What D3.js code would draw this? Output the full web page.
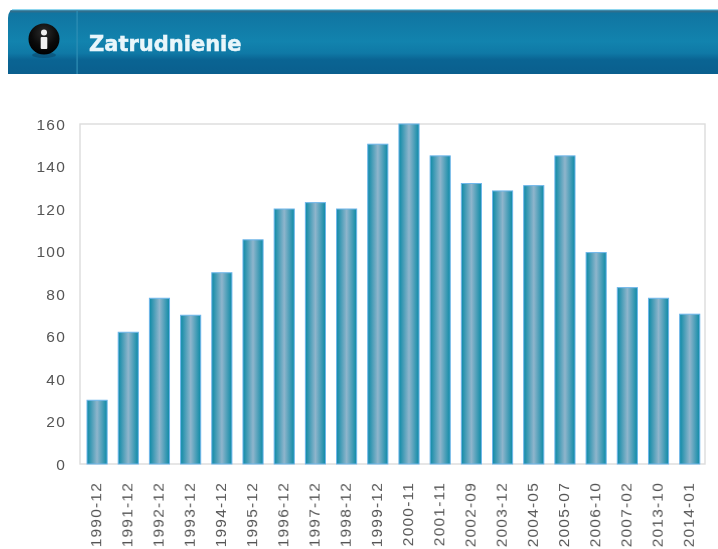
<!DOCTYPE html>
<html><head><meta charset="utf-8">
<script src="https://cdn.jsdelivr.net/npm/d3@7/dist/d3.min.js"></script>
<style>html,body{margin:0;padding:0;background:#fff}svg{display:block}</style>
</head><body><svg id="c" width="718" height="549"></svg>
<script>
const titleText = "Zatrudnienie";
const categories = ["1990-12","1991-12","1992-12","1993-12","1994-12","1995-12","1996-12","1997-12","1998-12","1999-12","2000-11","2001-11","2002-09","2003-12","2004-05","2005-07","2006-10","2007-02","2013-10","2014-01"];
const values = [30,62,78,70,90,105.5,120,123,120,150.5,160,145,132,128.5,131,145,99.5,83,78,70.5];
const yTicks = [0,20,40,60,80,100,120,140,160];

const svg = d3.select("#c");
const defs = svg.append("defs");
const hg = defs.append("linearGradient").attr("id","hdr").attr("x1",0).attr("y1",0).attr("x2",0).attr("y2",1);
[[0,"#10739f"],[0.5,"#1283ae"],[0.68,"#0f79a6"],[0.78,"#0a6493"],[1,"#0a5f8e"]].forEach(s=>hg.append("stop").attr("offset",s[0]).attr("stop-color",s[1]));
const bg = defs.append("linearGradient").attr("id","bar").attr("x1",0).attr("y1",0).attr("x2",1).attr("y2",0);
[[0,"#0d8aa6"],[0.5,"#8fb5cc"],[1,"#0d8aa6"]].forEach(s=>bg.append("stop").attr("offset",s[0]).attr("stop-color",s[1]));
const ig = defs.append("radialGradient").attr("id","ic").attr("cx",0.5).attr("cy",0.3).attr("r",0.7);
[[0,"#2c2c2c"],[0.6,"#0a0a0a"],[1,"#000"]].forEach(s=>ig.append("stop").attr("offset",s[0]).attr("stop-color",s[1]));
const blur = defs.append("filter").attr("id","soft").attr("x","-10%").attr("y","-10%").attr("width","120%").attr("height","120%");
blur.append("feGaussianBlur").attr("stdDeviation",0.35);

// header
svg.append("path").attr("d","M8,74V18Q8,9 16,9H718V74Z").attr("fill","url(#hdr)");
svg.append("rect").attr("x",12).attr("y",9).attr("width",706).attr("height",1.5).attr("fill","#8fd6ee");
svg.append("rect").attr("x",10).attr("y",10.5).attr("width",708).attr("height",2).attr("fill","#2f6f8d");
svg.append("rect").attr("x",76.5).attr("y",11).attr("width",1.2).attr("height",63).attr("fill","#2f8fb6");
svg.append("ellipse").attr("cx",44).attr("cy",55).attr("rx",12).attr("ry",3).attr("fill","#0a4a6e").attr("opacity",0.6);
svg.append("circle").attr("cx",44).attr("cy",39).attr("r",15.5).attr("fill","url(#ic)");
svg.append("circle").attr("cx",44).attr("cy",32.5).attr("r",3).attr("fill","#efefef").attr("filter","url(#soft)");
svg.append("rect").attr("x",40.7).attr("y",37).attr("width",6.6).attr("height",12).attr("rx",1).attr("fill","#efefef").attr("filter","url(#soft)");
svg.append("text").attr("x",89).attr("y",51).attr("font-family","'DejaVu Sans',sans-serif")
  .attr("font-weight","700").attr("font-size",21).attr("fill","#e9f6fb").attr("stroke","#e9f6fb").attr("stroke-width",0.5).attr("filter","url(#soft)").text(titleText);

// chart
const x = d3.scaleBand().domain(categories).range([81,705]).paddingInner(0.355).paddingOuter(0.18);
const y = d3.scaleLinear().domain([0,160]).range([464,124]);

svg.append("rect").attr("x",80).attr("y",124).attr("width",625).attr("height",340)
  .attr("fill","#fff").attr("stroke","#dcdcdc").attr("stroke-width",1.4);

svg.append("g").selectAll("rect").data(values).join("rect")
  .attr("x",(d,i)=>x(categories[i])+0.4).attr("width",x.bandwidth())
  .attr("y",d=>y(d)).attr("height",d=>464-y(d))
  .attr("fill","url(#bar)").attr("stroke","#6fb6ea").attr("stroke-width",1);

const labelFont = "'Liberation Sans',sans-serif";
const yAxis = d3.axisLeft(y).tickValues(yTicks).tickSize(0).tickPadding(14);
const gy = svg.append("g").attr("transform","translate(80,0.5)").call(yAxis);
gy.select(".domain").remove();
gy.selectAll("text").attr("font-family",labelFont).attr("font-size",15.5).attr("letter-spacing",1.2).attr("fill","#555").attr("filter","url(#soft)");

const xAxis = d3.axisBottom(x).tickSize(0).tickPadding(0);
const gx = svg.append("g").attr("transform","translate(0,464)").call(xAxis);
gx.select(".domain").remove();
gx.selectAll("text").attr("font-family",labelFont).attr("font-size",15.5).attr("letter-spacing",1.2).attr("fill","#555").attr("filter","url(#soft)")
  .attr("text-anchor","end").attr("dy",null)
  .attr("transform","translate(0.5,18) rotate(-90)").attr("x",0).attr("y",0).attr("dominant-baseline","middle");
</script></body></html>
